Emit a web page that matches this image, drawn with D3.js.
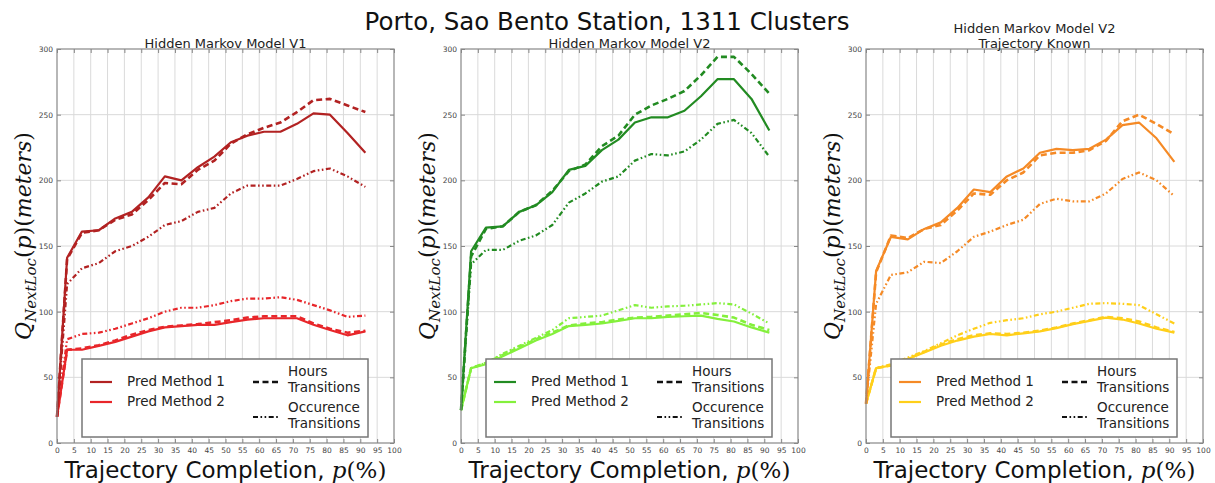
<!DOCTYPE html>
<html>
<head>
<meta charset="utf-8">
<script src="https://cdn.jsdelivr.net/npm/d3@7"></script>
<style>
  html, body { margin: 0; padding: 0; background: #fff; }
  svg { display: block; }
  .tick text { font-family: "DejaVu Sans", sans-serif; fill: #444; }
</style>
</head>
<body>
<svg id="chart"></svg>
<script>
const width = 1215;
const height = 483;

// trajectory completion p(%) sampled positions
const completion = [0, 3, 7.4, 12.4, 17.3, 22.2, 27.1, 32, 36.9, 41.8, 46.7, 51.6, 56.5, 61.4, 66.3, 71.2, 76.1, 81, 86.2, 91.5];

// Hidden Markov Model V1
const v1Method1 = [20, 141, 161, 162, 171, 176, 187, 203, 200, 210, 218, 229, 234, 237, 237, 243, 251, 250, 236, 221];
const v1Method1Hours = [20, 140, 160, 162, 170, 174, 185, 198, 197, 208, 215, 228, 235, 240, 244, 252, 261, 262, 257, 252];
const v1Method1Occ = [20, 121, 133, 137, 146, 150, 157, 166, 169, 176, 179, 190, 196, 196, 196, 201, 207, 209, 203, 195];
const v1Method2 = [20, 71, 71, 74, 77, 81, 85, 88, 89, 90, 90, 92, 94, 95, 95, 95, 90, 86, 82, 85];
const v1Method2Hours = [20, 71, 72, 74.5, 78, 82.5, 86, 88.5, 89.5, 90.5, 92, 93.5, 95.5, 96.5, 96.5, 96.5, 91, 87, 84, 85.5];
const v1Method2Occ = [20, 79, 83, 84, 87, 91, 95, 100, 103, 103, 105, 108, 110, 110, 111, 109, 105, 101, 96, 97];

// Hidden Markov Model V2
const v2Method1 = [25, 146, 164, 165, 176, 181, 191, 208, 211, 223, 231, 244, 248, 248, 253, 264, 277, 277, 262, 238];
const v2Method1Hours = [25, 142, 163, 165, 176, 181, 192, 207, 212, 226, 234, 250, 257, 262, 268, 280, 294, 294, 281, 266];
const v2Method1Occ = [25, 136, 147, 147, 154, 158, 166, 183, 190, 199, 203, 215, 220, 219, 222, 231, 243, 246, 236, 218];
const v2Method2 = [25, 57, 60, 66, 72, 78, 83, 89, 90, 91, 93, 95, 95, 96, 96.5, 97, 94.5, 92.5, 88, 84];
const v2Method2Hours = [25, 57, 61, 67, 73, 79, 84, 89.5, 91, 92, 94, 95.5, 96, 97, 98, 99, 97.5, 95.5, 90, 86];
const v2Method2Occ = [25, 57, 61, 68, 74, 80, 86, 95, 96, 97, 101, 105, 103, 104, 104.5, 105.5, 106.5, 105.5, 98.5, 91];

// Hidden Markov Model V2, trajectory known
const knownMethod1 = [30, 131, 157, 155, 163, 168, 179, 193, 191, 203, 209, 221, 224, 223, 224, 231, 242, 244, 232, 214];
const knownMethod1Hours = [30, 130, 158, 156, 163, 166, 177, 190, 189, 200, 206, 219, 221, 221, 223, 230, 245, 250, 243, 235];
const knownMethod1Occ = [30, 106, 128, 130, 138, 137, 146, 157, 161, 166, 170, 182, 186, 184, 184, 190, 201, 206, 200, 188];
const knownMethod2 = [30, 57, 59, 64, 69, 74, 78, 81, 83, 82, 83.5, 85, 87.5, 90.5, 93, 95.5, 94, 91, 87, 84];
const knownMethod2Hours = [30, 57, 59, 64, 69.5, 75, 79, 82, 83.5, 83, 84, 85.5, 88, 91, 93.5, 96, 95, 92.5, 88, 84.5];
const knownMethod2Occ = [30, 57, 60, 65, 70, 76, 82, 87, 91.5, 93.5, 95, 98, 100, 103, 106, 106.5, 106, 105, 98, 91];

const xTicks = d3.range(0, 101, 5);
const yTicks = [0, 50, 100, 150, 200, 250, 300];

const panels = [
  { left: 57, title: ["Hidden Markov Model V1"], colors: ["#b22222", "#e8262a"],
    m1: [v1Method1, v1Method1Hours, v1Method1Occ], m2: [v1Method2, v1Method2Hours, v1Method2Occ] },
  { left: 461, title: ["Hidden Markov Model V2"], colors: ["#228b22", "#84f03c"],
    m1: [v2Method1, v2Method1Hours, v2Method1Occ], m2: [v2Method2, v2Method2Hours, v2Method2Occ] },
  { left: 866, title: ["Hidden Markov Model V2", "Trajectory Known"], colors: ["#f58a26", "#ffcf1a"],
    m1: [knownMethod1, knownMethod1Hours, knownMethod1Occ], m2: [knownMethod2, knownMethod2Hours, knownMethod2Occ] }
];

const plotW = 337;
const plotTop = 49;
const plotBottom = 443;

// solid, hours (dashed), occurence (dash-dot-dot)
const styles = [
  { dash: null, w: 2.2 },
  { dash: "6,3.5", w: 2.6 },
  { dash: "5,2.5,1.6,2.5,1.6,2.5", w: 2.2 }
];

const svg = d3.select("#chart").attr("width", width).attr("height", height);

svg.append("text")
  .attr("x", 607).attr("y", 29.5)
  .attr("text-anchor", "middle")
  .style("font-family", "DejaVu Sans, sans-serif")
  .style("font-size", "24.5px")
  .style("fill", "#111")
  .text("Porto, Sao Bento Station, 1311 Clusters");

panels.forEach(p => {
  const x = d3.scaleLinear().domain([0, 100]).range([p.left, p.left + plotW]);
  const y = d3.scaleLinear().domain([0, 300]).range([plotBottom, plotTop]);
  const g = svg.append("g");

  // grid
  g.append("g").selectAll("line.vg").data(xTicks.slice(1, -1)).enter().append("line")
    .attr("x1", d => x(d)).attr("x2", d => x(d))
    .attr("y1", plotTop).attr("y2", plotBottom)
    .style("stroke", "#dadada").style("stroke-width", 1);
  g.append("g").selectAll("line.hg").data(yTicks.slice(1, -1)).enter().append("line")
    .attr("x1", p.left).attr("x2", p.left + plotW)
    .attr("y1", d => y(d)).attr("y2", d => y(d))
    .style("stroke", "#dadada").style("stroke-width", 1);

  // axes with inward ticks
  const xAxis = g.append("g").attr("transform", `translate(0,${plotBottom})`)
    .call(d3.axisBottom(x).tickValues(xTicks).tickSizeInner(-4).tickSizeOuter(0).tickPadding(5));
  const yAxis = g.append("g").attr("transform", `translate(${p.left},0)`)
    .call(d3.axisLeft(y).tickValues(yTicks).tickSizeInner(-4).tickSizeOuter(0).tickPadding(4));
  g.append("g").attr("transform", `translate(0,${plotTop})`)
    .call(d3.axisTop(x).tickValues(xTicks).tickSizeInner(-4).tickSizeOuter(0).tickFormat(""));
  g.append("g").attr("transform", `translate(${p.left + plotW},0)`)
    .call(d3.axisRight(y).tickValues(yTicks).tickSizeInner(-4).tickSizeOuter(0).tickFormat(""));
  g.selectAll(".domain").remove();
  g.selectAll(".tick line").style("stroke", "#888");
  xAxis.selectAll("text").style("font-size", "7.5px");
  yAxis.selectAll("text").style("font-size", "7.5px");

  // lines
  const line = d3.line().x((d, i) => x(completion[i])).y(d => y(d));
  [[p.m2, p.colors[1]], [p.m1, p.colors[0]]].forEach(([series, color]) => {
    [2, 1, 0].forEach(k => {
      g.append("path")
        .datum(series[k])
        .attr("d", line)
        .style("fill", "none")
        .style("stroke", color)
        .style("stroke-width", styles[k].w)
        .style("stroke-dasharray", styles[k].dash)
        .style("stroke-linejoin", "round");
    });
  });

  // frame
  g.append("rect")
    .attr("x", p.left).attr("y", plotTop)
    .attr("width", plotW).attr("height", plotBottom - plotTop)
    .style("fill", "none").style("stroke", "#888").style("stroke-width", 1.2);

  // titles
  p.title.forEach((t, i) => {
    g.append("text")
      .attr("x", p.left + plotW / 2)
      .attr("y", 47.5 - (p.title.length - 1 - i) * 15)
      .attr("text-anchor", "middle")
      .style("font-family", "DejaVu Sans, sans-serif")
      .style("font-size", "13px")
      .style("fill", "#222")
      .text(t);
  });

  // x label
  const xl = g.append("text")
    .attr("x", p.left + plotW / 2).attr("y", 477.5)
    .attr("text-anchor", "middle")
    .style("font-size", "23px")
    .style("fill", "#111");
  xl.append("tspan").style("font-family", "DejaVu Sans, sans-serif").text("Trajectory Completion, ");
  xl.append("tspan").style("font-family", "DejaVu Serif, serif").style("font-style", "italic").text("p");
  xl.append("tspan").style("font-family", "DejaVu Serif, serif").text("(%)");

  // y label
  const yl = g.append("text")
    .attr("transform", `translate(${p.left - 26},236) rotate(-90)`)
    .attr("text-anchor", "middle")
    .style("font-family", "DejaVu Serif, serif")
    .style("font-size", "22px")
    .style("fill", "#111");
  yl.append("tspan").style("font-style", "italic").text("Q");
  yl.append("tspan").style("font-style", "italic").style("font-size", "15px").attr("dy", 5).text("NextLoc");
  yl.append("tspan").attr("dy", -5).text("(");
  yl.append("tspan").style("font-style", "italic").text("p");
  yl.append("tspan").text(")(");
  yl.append("tspan").style("font-style", "italic").text("meters");
  yl.append("tspan").text(")");

  // legend
  const L = p.left;
  const lg = g.append("g");
  lg.append("rect")
    .attr("x", L + 25).attr("y", 359).attr("width", 286).attr("height", 78)
    .style("fill", "#fff").style("stroke", "#777").style("stroke-width", 1.5);
  const legFont = sel => sel.style("font-family", "DejaVu Sans, sans-serif")
    .style("font-size", "13.5px").style("fill", "#222").attr("dominant-baseline", "middle");
  [["Pred Method 1", p.colors[0], 382], ["Pred Method 2", p.colors[1], 402]].forEach(([label, color, yy]) => {
    lg.append("line").attr("x1", L + 33).attr("x2", L + 55).attr("y1", yy).attr("y2", yy)
      .style("stroke", color).style("stroke-width", 2.2);
    lg.append("text").attr("x", L + 70).attr("y", yy).call(legFont).text(label);
  });
  [[styles[1], 382, ["Hours", "Transitions"], 372], [styles[2], 417, ["Occurence", "Transitions"], 408]]
    .forEach(([st, yy, labels, ty]) => {
      lg.append("line").attr("x1", L + 196).attr("x2", L + 221).attr("y1", yy).attr("y2", yy)
        .style("stroke", "#111").style("stroke-width", st.w).style("stroke-dasharray", st.dash);
      labels.forEach((t, i) => {
        lg.append("text").attr("x", L + 231).attr("y", ty + i * 16).call(legFont).text(t);
      });
    });
});
</script>
</body>
</html>
